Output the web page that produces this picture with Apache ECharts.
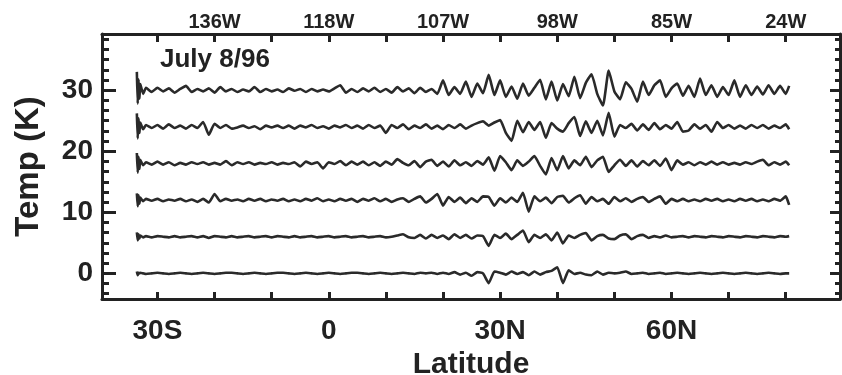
<!DOCTYPE html>
<html>
<head>
<meta charset="utf-8">
<script src="https://cdn.jsdelivr.net/npm/echarts@6/dist/echarts.min.js"></script>
<style>
html,body{margin:0;padding:0;background:#fff;}
#chart{width:842px;height:375px;}
</style>
</head>
<body>
<div id="chart"></div>
<script>
// Latitude samples (degrees, negative = south)
const lats = [-33.6,-33.45,-33.3,-33.15,-33,-32.5,
-32,-31,-30,-29,-28,-27,-26,-25,-24,-23,-22,-21,-20,-19,-18,-17,-16,-15,-14,-13,-12,-11,-10,-9,-8,-7,-6,-5,-4,-3,-2,-1,
0,1,2,3,4,5,6,7,8,9,10,11,12,13,14,15,16,17,18,19,20,21,22,23,24,25,26,27,28,29,30,31,32,33,34,35,36,37,38,39,
40,41,42,43,44,45,46,47,48,49,50,51,52,53,54,55,56,57,58,59,60,61,62,63,64,65,66,67,68,69,70,71,72,73,74,75,76,77,78,79,80,80.6];

// Temperature traces (K), each plotted at its offset level
const trace30 = [33.0,27.8,31.8,28.6,31.0,29.4,
30.4,29.7,30.4,29.8,30.3,29.6,30.2,30.7,29.7,30.2,
29.8,30.3,29.6,30.5,29.8,30.2,29.7,30.1,29.8,30.5,
29.7,30.2,29.8,30.1,29.7,30.3,29.9,30.2,29.7,30.2,
29.8,30.1,
29.8,30.3,30.8,29.6,30.2,29.7,30.3,29.8,30.4,29.7,
30.2,29.6,30.5,29.8,30.3,29.5,30.4,29.7,30.2,29.4,
31.6,29.2,30.5,29.4,31.4,28.9,31.1,29.5,32.5,29.2,
31.6,28.9,30.6,28.6,31.1,29.1,30.4,31.7,28.5,31.4,
28.3,31.0,29.0,32.2,28.7,31.2,32.6,29.4,27.5,33.2,
29.8,28.5,31.3,30.2,28.1,31.4,29.2,30.8,31.6,28.9,
30.3,31.1,29.1,30.7,28.9,31.9,29.2,30.8,28.9,30.5,
29.2,31.6,28.9,30.8,29.2,30.6,29.3,30.8,29.4,30.7,
29.4,30.7];

const trace24 = [26.2,22.1,25.4,23.0,24.7,23.6,
24.3,23.8,24.3,23.7,24.4,23.8,24.2,23.7,24.3,23.8,
24.8,22.7,24.5,23.8,24.3,23.7,23.9,24.2,23.8,24.1,
23.6,24.2,23.9,24.2,23.8,24.2,23.7,24.2,23.9,24.3,
23.8,24.1,
23.7,24.2,23.9,24.3,23.8,24.2,23.7,24.3,23.8,24.2,
23.0,24.3,23.8,24.4,23.6,24.2,23.8,24.4,23.7,24.2,
23.6,24.3,23.8,24.4,23.7,24.2,24.6,24.9,24.2,24.7,
25.1,23.0,21.7,25.0,23.1,24.8,23.5,24.8,22.2,24.6,
23.7,23.2,24.6,25.6,22.5,24.9,23.0,25.0,22.6,26.3,
22.4,24.3,23.8,24.5,23.4,24.4,23.5,24.6,23.6,24.3,
23.7,24.8,23.2,23.4,24.4,23.7,24.3,23.2,24.8,23.8,
24.3,23.7,24.2,23.7,24.3,23.8,24.3,23.7,24.2,23.8,
24.4,23.6];

const trace18 = [19.7,16.5,19.1,17.1,18.6,17.7,
18.2,17.8,18.3,17.8,18.2,17.7,18.1,17.8,18.2,17.9,
18.2,17.8,18.1,17.8,18.4,17.7,18.2,17.9,18.2,17.8,
18.1,17.9,18.2,17.8,18.1,17.9,18.2,17.5,18.3,17.9,
18.2,17.2,
18.2,17.9,18.4,17.7,18.3,17.8,18.3,17.7,18.2,17.6,
18.3,17.8,18.7,18.1,17.7,18.4,17.4,18.3,18.6,17.6,
18.3,17.5,18.5,17.7,18.2,17.6,18.4,17.8,19.0,16.8,
19.2,18.2,16.9,18.5,17.6,18.3,19.2,17.6,16.2,18.9,
16.9,19.2,17.2,18.5,17.7,19.1,17.4,18.5,19.1,16.6,
17.7,18.6,17.6,18.5,17.5,18.4,17.7,18.5,17.6,18.8,
16.9,18.5,17.8,18.2,17.7,18.2,17.8,18.3,17.8,18.2,
17.8,18.1,17.8,18.2,17.9,18.3,18.6,17.7,18.2,17.8,
18.3,17.7];

const trace12 = [13.1,11.0,12.8,11.4,12.4,11.8,
12.2,11.9,12.2,11.8,12.1,11.9,12.2,11.8,12.1,11.7,
12.2,11.6,13.0,11.8,12.2,11.9,12.1,11.8,12.2,11.9,
12.2,11.8,12.1,11.9,12.2,11.8,12.1,11.8,12.2,11.9,
12.3,11.8,
12.1,11.8,12.2,11.9,12.2,11.7,12.2,11.9,12.3,11.8,
12.2,11.7,12.1,12.3,11.7,12.2,12.6,11.6,12.2,13.0,
11.1,12.5,11.7,12.4,11.5,12.3,11.7,12.6,12.5,11.1,
12.3,11.6,12.4,11.7,13.2,10.1,12.6,11.8,12.4,11.5,
12.5,12.7,11.6,12.3,12.8,11.4,12.5,11.8,12.2,11.4,
12.5,11.8,12.3,11.7,12.2,12.5,11.7,12.2,12.6,11.4,
12.2,11.8,12.2,11.8,12.1,11.8,12.2,11.9,12.2,11.8,
12.1,11.8,12.2,11.9,12.2,11.8,12.1,11.8,12.2,11.9,
12.6,11.2];

const trace06 = [6.7,5.4,6.4,5.7,6.2,5.9,
6.1,5.9,6.1,6.0,5.9,6.1,5.9,6.0,6.1,5.9,
6.1,5.8,6.1,6.0,5.9,6.1,5.9,6.0,6.1,5.9,
6.0,6.1,5.9,6.1,6.0,5.9,6.1,5.9,6.0,6.1,
5.9,6.0,
6.1,5.9,6.0,6.1,5.9,6.0,6.1,5.9,6.0,6.1,
5.9,6.0,6.2,6.4,5.9,5.8,6.3,5.7,6.3,5.8,
6.2,5.6,6.4,5.8,6.3,5.7,6.2,6.1,4.5,6.3,
5.8,6.5,5.6,6.3,7.0,5.1,6.3,5.8,6.4,5.4,
6.7,4.9,6.2,5.8,6.3,6.6,5.4,6.1,6.3,5.7,
5.6,6.2,6.4,5.6,6.1,6.3,5.8,6.1,5.9,6.2,
5.9,6.0,6.1,5.9,6.1,6.0,5.9,6.1,6.0,5.9,
6.1,6.0,5.9,6.1,6.0,5.9,6.1,6.0,5.9,6.1,
6.0,6.1];

const trace00 = [0.3,-0.3,0.1,0.0,0.1,0.0,
-0.1,0.0,0.1,0.0,-0.1,0.0,0.1,0.0,-0.1,0.0,
0.1,0.0,-0.1,0.0,0.1,0.1,0.0,-0.1,0.0,0.1,
0.0,-0.1,0.0,0.1,0.1,0.0,-0.1,0.0,0.1,0.0,
-0.1,0.0,
0.1,0.0,-0.1,0.0,0.1,0.1,0.0,-0.1,0.0,0.1,
0.0,-0.1,0.0,0.1,0.0,-0.1,0.1,0.0,0.1,-0.1,
0.1,-0.1,0.2,-0.2,0.1,-0.4,0.2,0.0,-1.6,0.3,
0.1,-0.2,0.3,-0.1,0.2,-0.3,0.3,-0.2,0.2,0.4,
1.0,-1.6,0.5,-0.1,0.1,-0.2,-0.3,0.3,-0.2,0.1,
0.0,0.1,0.3,-0.1,0.0,0.1,-0.1,0.0,0.1,-0.1,
0.0,0.1,0.0,-0.1,0.0,0.1,0.0,-0.1,0.0,0.1,
0.0,-0.1,0.0,0.1,0.0,-0.1,0.0,0.1,0.0,-0.1,
0.0,0.0];

// Axis ticks and labels
const latTickVals = [-30,-20,-10,0,10,20,30,40,50,60,70,80];
const latLabelVals = [-30,0,30,60];
const latLabels = ['30S','0','30N','60N'];
const lonLabelVals = [-20,0,20,40,60,80];
const lonLabels = ['136W','118W','107W','98W','85W','24W'];
const tempMajorVals = [0,10,20,30];
const tempMinorVals = [-3.33,-1.67,1.67,3.33,5,6.67,8.33,11.67,13.33,15,16.67,18.33,21.67,23.33,25,26.67,28.33,31.67,33.33,35,36.67,38.33];
const dateLabel = 'July 8/96';

const traces = [trace30, trace24, trace18, trace12, trace06, trace00];

const FONT = '"Liberation Sans", Arial, Helvetica, sans-serif';
const INK = '#222';
const X_MIN = -39.7, X_MAX = 89.5, Y_MIN = -4.2, Y_MAX = 39.2;

function yAx(pos, len, vals, showLabel, showLine) {
  return {
    type: 'value', position: pos, min: Y_MIN, max: Y_MAX,
    splitLine: {show: false},
    axisLine: {show: showLine, onZero: false, lineStyle: {color: INK, width: 3}},
    axisTick: {show: true, inside: true, length: len, customValues: vals, lineStyle: {color: INK, width: 3}},
    axisLabel: showLabel ? {
      show: true, customValues: tempMajorVals, margin: 9,
      fontFamily: FONT, fontWeight: 'bold', fontSize: 28, color: INK
    } : {show: false}
  };
}

const chart = echarts.init(document.getElementById('chart'), null, {renderer: 'canvas'});
chart.setOption({
  backgroundColor: '#fff',
  animation: false,
  grid: {left: 102, right: 2, top: 34, bottom: 76, containLabel: false, outerBoundsMode: 'none'},
  xAxis: [{
    type: 'value', position: 'bottom', min: X_MIN, max: X_MAX,
    splitLine: {show: false},
    axisLine: {onZero: false, lineStyle: {color: INK, width: 3}},
    axisTick: {inside: true, length: 7, customValues: latTickVals, lineStyle: {color: INK, width: 3}},
    axisLabel: {
      customValues: latLabelVals, margin: 18,
      formatter: v => latLabels[latLabelVals.indexOf(v)],
      fontFamily: FONT, fontWeight: 'bold', fontSize: 28, color: INK
    },
    name: 'Latitude', nameLocation: 'middle', nameGap: 46,
    nameTextStyle: {fontFamily: FONT, fontWeight: 'bold', fontSize: 30, color: INK}
  }, {
    type: 'value', position: 'top', min: X_MIN, max: X_MAX,
    splitLine: {show: false},
    axisLine: {onZero: false, lineStyle: {color: INK, width: 3}},
    axisTick: {inside: true, length: 8, customValues: latTickVals, lineStyle: {color: INK, width: 3}},
    axisLabel: {
      customValues: lonLabelVals, margin: 2,
      formatter: v => lonLabels[lonLabelVals.indexOf(v)],
      fontFamily: FONT, fontWeight: 'bold', fontSize: 20, color: INK
    }
  }],
  yAxis: [
    Object.assign(yAx('left', 14, tempMajorVals, true, true), {
      name: 'Temp (K)', nameLocation: 'middle', nameGap: 57, nameRotate: 90,
      nameTextStyle: {fontFamily: FONT, fontWeight: 'bold', fontSize: 33, color: INK}
    }),
    yAx('left', 7, tempMinorVals, false, false),
    yAx('right', 10, tempMajorVals, false, true),
    yAx('right', 5, tempMinorVals, false, false)
  ],
  graphic: [{
    type: 'text', left: 160, top: 47,
    style: {text: dateLabel, fontFamily: FONT, fontWeight: 'bold', fontSize: 26, fill: INK}
  }],
  series: traces.map(t => ({
    type: 'line', xAxisIndex: 0, yAxisIndex: 0,
    showSymbol: false, smooth: 0.15,
    lineStyle: {color: '#2a2a2a', width: 2.6},
    data: lats.map((x, i) => [x, t[i]])
  }))
});
</script>
</body>
</html>
